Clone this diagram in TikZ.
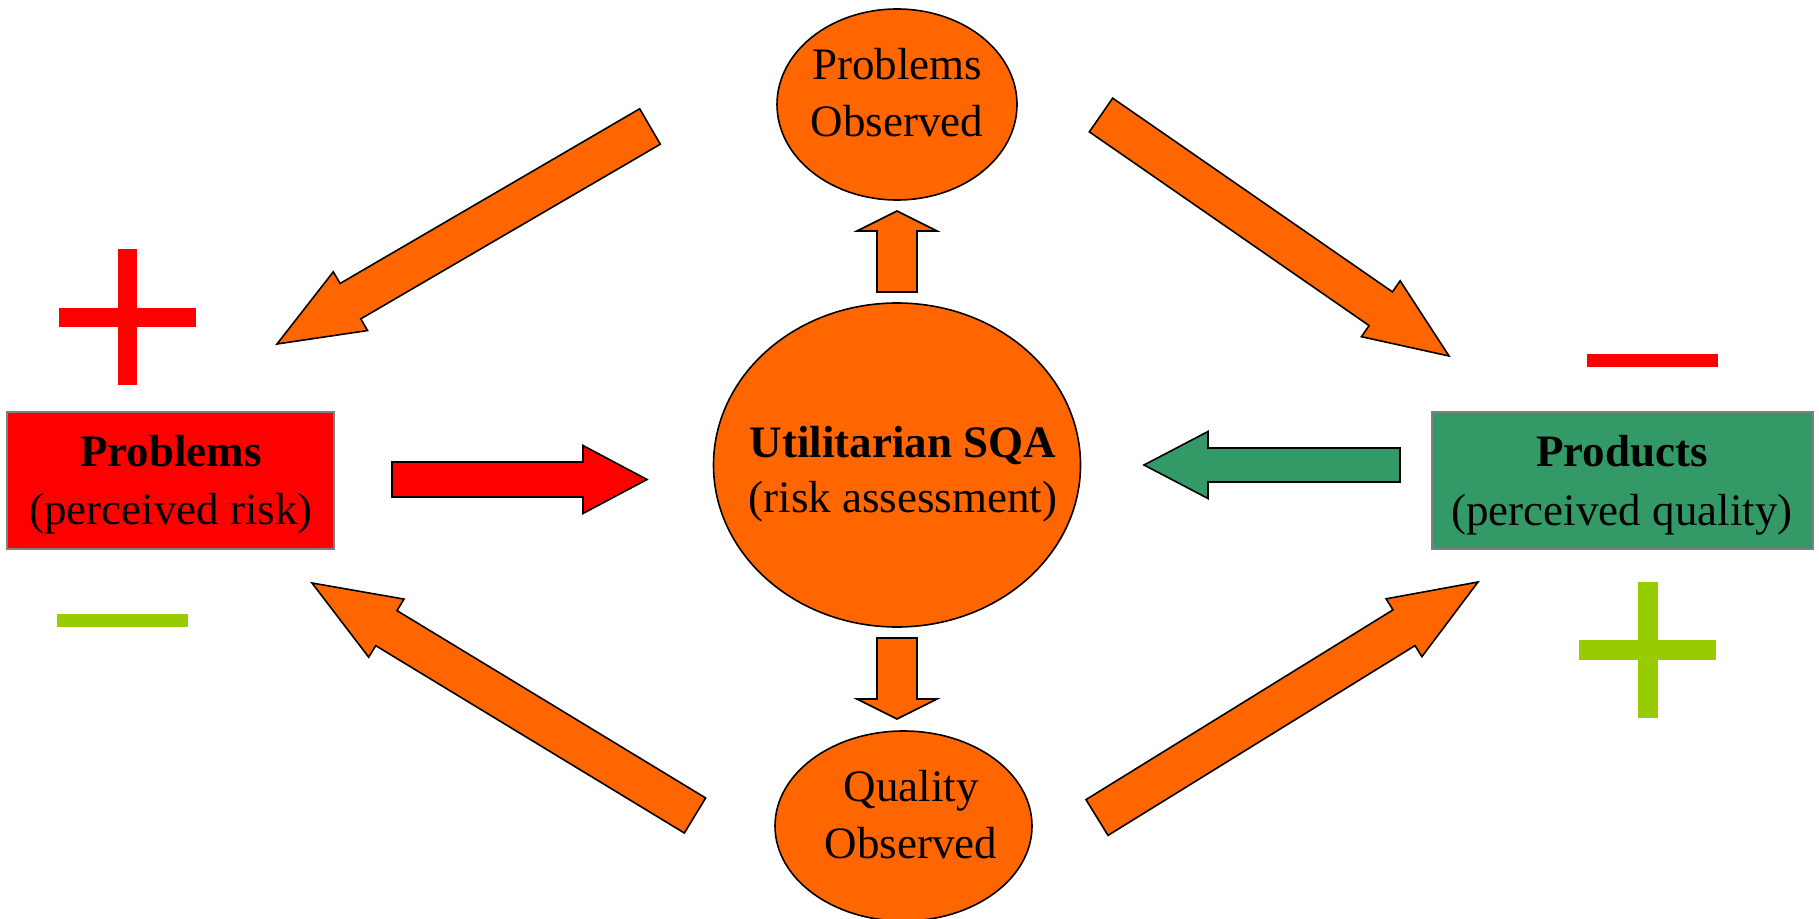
\documentclass[tikz,border=0pt]{standalone}
\usepackage{fontspec}
\setmainfont{Liberation Serif}
\usetikzlibrary{calc,shapes.geometric}
\definecolor{sqaorange}{HTML}{FF6600}
\definecolor{sqared}{HTML}{FF0000}
\definecolor{sqagreen}{HTML}{339966}
\definecolor{sqalime}{HTML}{99CC00}
\definecolor{boxborder}{HTML}{808080}
\tikzset{
  blockarrow/.style={draw=black, line width=0.8pt, line join=miter},
  oval/.style={ellipse, draw=black, line width=0.8pt, fill=sqaorange, inner sep=0pt},
  infobox/.style={rectangle, draw=boxborder, line width=0.8pt, inner sep=0pt, minimum height=68.5pt},
  lbl/.style={font=\fontsize{22.5}{27}\selectfont, inner sep=0pt, anchor=base},
  blbl/.style={font=\fontsize{22.5}{27}\selectfont\bfseries, inner sep=0pt, anchor=base},
  signbar/.style={draw=none}
}
\newcommand{\BlockArrow}[6]{%
  \path ($(#3)!#6!(#2)$) coordinate (#3-base);
  \draw[blockarrow,fill=#1]
    ($(#2)!#4!90:(#3)$) -- ($(#3-base)!#4!-90:(#2)$) -- ($(#3-base)!#5!-90:(#2)$) -- (#3)
    -- ($(#3-base)!#5!90:(#2)$) -- ($(#3-base)!#4!90:(#2)$) -- ($(#2)!#4!-90:(#3)$) -- cycle;
}
\begin{document}
\begin{tikzpicture}[x=0.5pt,y=-0.5pt]
\useasboundingbox (0,0) rectangle (1819,919);

% main nodes
\node[infobox, fill=sqared, minimum width=163.5pt] (problems) at (170.5,480.5) {};
\node[infobox, fill=sqagreen, minimum width=190.5pt] (products) at (1622.5,480.5) {};
\node[oval, minimum width=183.5pt, minimum height=162pt] (sqa) at (897,465) {};
\node[oval, minimum width=120pt, minimum height=95.5pt] (probobs) at (897,104.5) {};
\node[oval, minimum width=128.5pt, minimum height=95pt] (qualobs) at (903.5,826) {};

% texts
\node[blbl] (problems-t1) at (171,466) {Problems};
\node[lbl] (problems-t2) at (171,524) {(perceived risk)};
\node[blbl] (products-t1) at (1622,466) {Products};
\node[lbl] (products-t2) at (1622,525) {(perceived quality)};
\node[blbl] (sqa-t1) at (903,457) {Utilitarian SQA};
\node[lbl] (sqa-t2) at (903,512) {(risk assessment)};
\node[lbl] (probobs-t1) at (897,80) {Problems};
\node[lbl] (probobs-t2) at (897,137) {Observed};
\node[lbl] (qualobs-t1) at (911,801) {Quality};
\node[lbl] (qualobs-t2) at (911,858) {Observed};

% arrow end points
\coordinate (redTail) at (392,479.5);
\coordinate (redTip) at (647,479.5);
\coordinate (greenTail) at (1400,465);
\coordinate (greenTip) at (1144,465);
\coordinate (upTail) at (897,292);
\coordinate (upTip) at (897,211);
\coordinate (downTail) at (897,638);
\coordinate (downTip) at (897,719);
\coordinate (tlTail) at (650,126.5);
\coordinate (tlTip) at (277,344);
\coordinate (trTail) at (1101,115);
\coordinate (trTip) at (1449,356);
\coordinate (blTail) at (695,815.5);
\coordinate (blTip) at (312,583);
\coordinate (brTail) at (1097,817.5);
\coordinate (brTip) at (1478,582);

% block arrows
\BlockArrow{sqared}{redTail}{redTip}{8.75pt}{17pt}{32pt}
\BlockArrow{sqagreen}{greenTail}{greenTip}{8.5pt}{16.75pt}{32pt}
\BlockArrow{sqaorange}{upTail}{upTip}{10pt}{20pt}{10pt}
\BlockArrow{sqaorange}{downTail}{downTip}{10pt}{20pt}{10pt}
\BlockArrow{sqaorange}{tlTail}{tlTip}{10.25pt}{17pt}{42.5pt}
\BlockArrow{sqaorange}{trTail}{trTip}{10.25pt}{17pt}{41.5pt}
\BlockArrow{sqaorange}{blTail}{blTip}{10.25pt}{17pt}{43.5pt}
\BlockArrow{sqaorange}{brTail}{brTip}{10.5pt}{17pt}{43.5pt}

% plus / minus signs
\fill[sqared] (118,249) rectangle (137,385);
\fill[sqared] (59,308) rectangle (196,327);
\fill[sqared] (1587,354) rectangle (1718,367);
\fill[sqalime] (57,614) rectangle (188,627);
\fill[sqalime] (1638,582) rectangle (1658,718);
\fill[sqalime] (1579,640) rectangle (1716,660);
\end{tikzpicture}
\end{document}
